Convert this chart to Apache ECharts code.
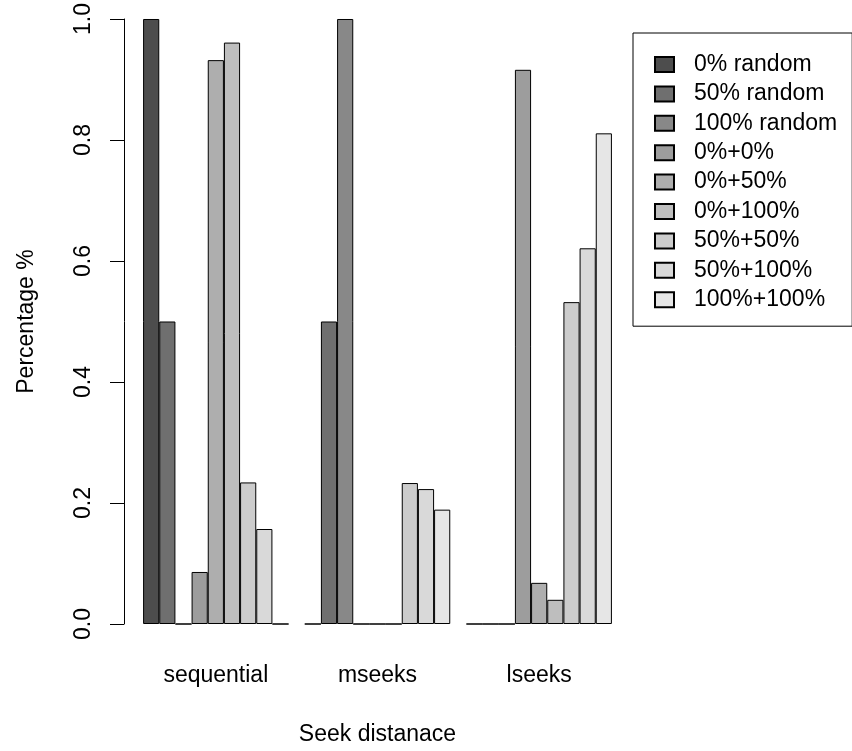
<!DOCTYPE html>
<html>
<head>
<meta charset="utf-8">
<title>Seek distance</title>
<script src="https://cdn.jsdelivr.net/npm/echarts@6/dist/echarts.min.js"></script>
<style>
  html, body { margin: 0; padding: 0; background: #ffffff; }
  #chart { width: 852px; height: 751px; }
</style>
</head>
<body>
<div id="chart"></div>
<script>
// Access patterns along the x axis
const categories = ['sequential', 'mseeks', 'lseeks'];

// Workload mixes, one bar per mix inside each pattern
const seriesNames = [
  '0% random', '50% random', '100% random',
  '0%+0%', '0%+50%', '0%+100%',
  '50%+50%', '50%+100%', '100%+100%'
];

// Share of requests per pattern (sequential, mseeks, lseeks)
const random0 = [1.0, 0, 0];
const random50 = [0.5, 0.5, 0];
const random100 = [0, 1.0, 0];
const mix0_0 = [0.086, 0, 0.916];
const mix0_50 = [0.932, 0, 0.068];
const mix0_100 = [0.961, 0, 0.040];
const mix50_50 = [0.234, 0.233, 0.532];
const mix50_100 = [0.157, 0.223, 0.621];
const mix100_100 = [0, 0.189, 0.811];

const seriesValues = [
  random0, random50, random100,
  mix0_0, mix0_50, mix0_100,
  mix50_50, mix50_100, mix100_100
];

// Y axis ticks
const yTicks = [0, 0.2, 0.4, 0.6, 0.8, 1.0];

// Gamma-corrected grey ramp, dark to light
const greys = ['#4d4d4d', '#6f6f6f', '#888888', '#9d9d9d', '#aeaeae',
               '#bebebe', '#cccccc', '#d9d9d9', '#e6e6e6'];

const FONT = 'Liberation Sans, Arial, Helvetica, sans-serif';
const FS = 23;

const chart = echarts.init(document.getElementById('chart'), null, { renderer: 'canvas' });

const series = seriesNames.map((name, i) => ({
  name: name,
  type: 'bar',
  data: seriesValues[i],
  barGap: '0%',
  barCategoryGap: '10%',
  itemStyle: {
    color: greys[i],
    borderColor: '#000000',
    borderWidth: 1
  },
  emphasis: { disabled: true },
  animation: false
}));

chart.setOption({
  backgroundColor: '#ffffff',
  animation: false,
  textStyle: { fontFamily: FONT, color: '#000' },
  grid: {
    left: 135,
    right: 232,
    top: 18,
    bottom: 126,
    containLabel: false
  },
  legend: {
    orient: 'vertical',
    left: 633,
    top: 33,
    data: seriesNames,
    icon: 'rect',
    itemWidth: 19,
    itemHeight: 15,
    itemGap: 6.4,
    padding: [20, 15, 15, 21],
    borderColor: '#000000',
    borderWidth: 1,
    borderRadius: 0,
    selectedMode: false,
    textStyle: {
      fontFamily: FONT,
      fontSize: FS,
      color: '#000',
      padding: [0, 0, 0, 15]
    }
  },
  xAxis: {
    type: 'category',
    data: categories,
    axisLine: { show: false },
    axisTick: { show: false },
    axisLabel: {
      fontFamily: FONT,
      fontSize: FS,
      color: '#000',
      margin: 40
    },
    name: 'Seek distanace',
    nameLocation: 'middle',
    nameGap: 99,
    nameTextStyle: { fontFamily: FONT, fontSize: FS, color: '#000' }
  },
  yAxis: {
    type: 'value',
    min: yTicks[0],
    max: yTicks[yTicks.length - 1],
    interval: 0.2,
    offset: 11,
    axisLine: { show: true, lineStyle: { color: '#000', width: 1 } },
    axisTick: { show: true, length: 14, lineStyle: { color: '#000', width: 1 } },
    splitLine: { show: false },
    axisLabel: {
      fontFamily: FONT,
      fontSize: FS,
      color: '#000',
      rotate: 90,
      margin: 29,
      formatter: v => v.toFixed(1)
    },
    name: 'Percentage %',
    nameLocation: 'middle',
    nameRotate: 90,
    nameGap: 86,
    nameTextStyle: { fontFamily: FONT, fontSize: FS, color: '#000' }
  },
  series: series
});
</script>
</body>
</html>
